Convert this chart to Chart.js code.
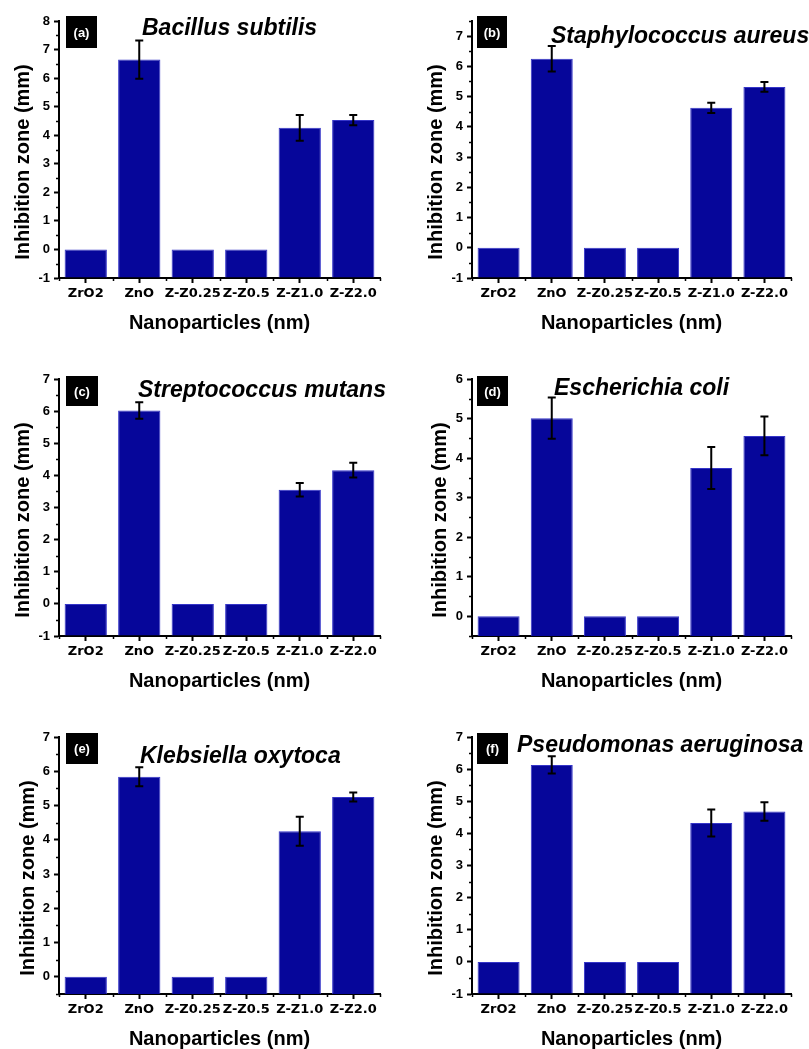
<!DOCTYPE html>
<html>
<head>
<meta charset="utf-8">
<script src="https://cdn.jsdelivr.net/npm/chart.js@4.4.1/dist/chart.umd.min.js"></script>
<style>
  html, body { margin: 0; padding: 0; background: #fff; overflow: hidden; }
  body { width: 809px; height: 1049px; position: relative; }
  canvas { position: absolute; }
</style>
</head>
<body>
<canvas id="panel-a"></canvas>
<canvas id="panel-b"></canvas>
<canvas id="panel-c"></canvas>
<canvas id="panel-d"></canvas>
<canvas id="panel-e"></canvas>
<canvas id="panel-f"></canvas>
<script>
const categories = ['ZrO2', 'ZnO', 'Z-Z0.25', 'Z-Z0.5', 'Z-Z1.0', 'Z-Z2.0'];

// inhibition zone (mm) and error per panel
const valuesA = [0, 6.65, 0, 0, 4.26, 4.53];
const errorsA = [0, 0.67, 0, 0, 0.45, 0.18];
const valuesB = [0, 6.25, 0, 0, 4.63, 5.32];
const errorsB = [0, 0.42, 0, 0, 0.17, 0.16];
const valuesC = [0, 6.02, 0, 0, 3.55, 4.16];
const errorsC = [0, 0.26, 0, 0, 0.21, 0.23];
const valuesD = [0, 5.01, 0, 0, 3.75, 4.56];
const errorsD = [0, 0.52, 0, 0, 0.53, 0.49];
const valuesE = [0, 5.84, 0, 0, 4.25, 5.25];
const errorsE = [0, 0.28, 0, 0, 0.42, 0.13];
const valuesF = [0, 6.13, 0, 0, 4.32, 4.68];
const errorsF = [0, 0.27, 0, 0, 0.42, 0.29];

// y tick labels per panel
const yTicksA = [-1, 0, 1, 2, 3, 4, 5, 6, 7, 8];
const yTicksB = [-1, 0, 1, 2, 3, 4, 5, 6, 7];
const yTicksC = [-1, 0, 1, 2, 3, 4, 5, 6, 7];
const yTicksD = [0, 1, 2, 3, 4, 5, 6];
const yTicksE = [0, 1, 2, 3, 4, 5, 6, 7];
const yTicksF = [-1, 0, 1, 2, 3, 4, 5, 6, 7];

const yTitle = 'Inhibition zone (mm)';
const xTitle = 'Nanoparticles (nm)';

const barFill = '#06069a';
const barEdge = '#3535c8';
const SANS = '"Liberation Sans", Arial, sans-serif';

// extra drawing: error bars, minor ticks, tag box, organism title, y title
const panelDecor = {
    id: 'panelDecor',
    afterDatasetsDraw(chart, args, o) {
        const ctx = chart.ctx;
        const ca = chart.chartArea;
        const x = chart.scales.x, y = chart.scales.y;
        const ds = chart.data.datasets[0];

        ctx.save();
        ctx.strokeStyle = '#000';
        ctx.lineWidth = 2;
        ds.errors.forEach((e, i) => {
            if (!e) return;
            const px = x.getPixelForValue(i);
            const top = y.getPixelForValue(ds.data[i] + e);
            const bot = y.getPixelForValue(ds.data[i] - e);
            ctx.beginPath();
            ctx.moveTo(px, top); ctx.lineTo(px, bot);
            ctx.moveTo(px - 4, top); ctx.lineTo(px + 4, top);
            ctx.moveTo(px - 4, bot); ctx.lineTo(px + 4, bot);
            ctx.stroke();
        });

        // minor ticks
        ctx.lineWidth = 1.5;
        ctx.beginPath();
        for (let v = y.min; v <= y.max + 1e-9; v += 0.5) {
            if (Number.isInteger(v)) continue;
            const py = Math.round(y.getPixelForValue(v)) + 0.5;
            ctx.moveTo(ca.left - 3, py); ctx.lineTo(ca.left, py);
        }
        for (let i = 0; i <= categories.length; i++) {
            const px = Math.round(x.getPixelForValue(i - 0.5)) + 0.5;
            ctx.moveTo(px, ca.bottom); ctx.lineTo(px, ca.bottom + 3);
        }
        ctx.stroke();
        ctx.restore();
    },
    afterDraw(chart, args, o) {
        const ctx = chart.ctx;
        const ca = chart.chartArea;
        ctx.save();

        // tag box
        ctx.fillStyle = '#000';
        ctx.fillRect(ca.left + o.box[0], ca.top + o.box[1], o.box[2], o.box[3]);
        ctx.fillStyle = '#fff';
        ctx.font = 'bold 13px ' + SANS;
        ctx.textAlign = 'center';
        ctx.textBaseline = 'middle';
        ctx.fillText(o.tag, ca.left + o.box[0] + o.box[2] / 2, ca.top + o.box[1] + o.box[3] / 2 + 1);

        // organism
        ctx.fillStyle = '#000';
        ctx.font = 'italic bold 23px ' + SANS;
        ctx.textAlign = 'left';
        ctx.textBaseline = 'alphabetic';
        ctx.fillText(o.title, ca.left + o.titlePos[0], ca.top + o.titlePos[1]);

        // y axis title
        ctx.font = 'bold 20px ' + SANS;
        ctx.textAlign = 'center';
        ctx.textBaseline = 'middle';
        ctx.translate(o.yTitleX, (ca.top + ca.bottom) / 2 + 12.5);
        ctx.rotate(-Math.PI / 2);
        ctx.fillText(yTitle, 0, 0);
        ctx.restore();
    }
};

function makePanel(id, p) {
    const canvas = document.getElementById(id);
    const colLeft = p.left < 400 ? 0 : 404;
    const width = colLeft === 0 ? 404 : 405;
    const height = p.bottom - p.top + 21 + 62;
    canvas.width = width;
    canvas.height = height;
    canvas.style.left = colLeft + 'px';
    canvas.style.top = (p.top - 21) + 'px';

    new Chart(canvas, {
        type: 'bar',
        data: {
            labels: categories,
            datasets: [{
                data: p.values,
                errors: p.errors,
                base: p.min,
                backgroundColor: barFill,
                borderColor: barEdge,
                borderWidth: 1,
                barPercentage: 0.79,
                categoryPercentage: 1
            }]
        },
        plugins: [panelDecor],
        options: {
            responsive: false,
            animation: false,
            events: [],
            layout: { padding: { top: 21, right: colLeft + width - p.right, left: 0, bottom: 0 } },
            plugins: {
                legend: { display: false },
                tooltip: { enabled: false },
                panelDecor: {
                    tag: p.tag,
                    title: p.title,
                    titlePos: p.titlePos,
                    box: p.box,
                    yTitleX: p.yTitleX
                }
            },
            scales: {
                x: {
                    grid: { offset: false, drawOnChartArea: false, tickLength: 5, tickColor: '#000', tickWidth: 2 },
                    border: { color: '#000', width: 2 },
                    ticks: {
                        color: '#000',
                        font: { family: '"DejaVu Sans", sans-serif', size: 13, weight: 'bold' },
                        padding: 3,
                        maxRotation: 0,
                        minRotation: 0,
                        autoSkip: false
                    },
                    title: {
                        display: true,
                        text: xTitle,
                        color: '#000',
                        font: { family: SANS, size: 20, weight: 'bold' },
                        padding: { top: 0, bottom: 5 }
                    },
                    afterFit: s => { s.height = 62; }
                },
                y: {
                    min: p.min,
                    max: p.max,
                    afterBuildTicks: s => { s.ticks = p.ticks.map(v => ({ value: v })); },
                    afterFit: s => { s.width = p.left - colLeft; },
                    grid: { drawOnChartArea: false, tickLength: 5, tickColor: '#000', tickWidth: 2 },
                    border: { color: '#000', width: 2 },
                    ticks: {
                        color: '#000',
                        font: { family: SANS, size: 13, weight: 'bold' },
                        padding: 4
                    }
                }
            }
        }
    });
}

makePanel('panel-a', { left: 59, right: 380, top: 21, bottom: 278, min: -1, max: 8,
    values: valuesA, errors: errorsA, ticks: yTicksA, tag: '(a)', title: 'Bacillus subtilis',
    titlePos: [83, 14], box: [7, -5, 31, 32], yTitleX: 23 });
makePanel('panel-b', { left: 472, right: 791, top: 21, bottom: 278, min: -1, max: 7.5,
    values: valuesB, errors: errorsB, ticks: yTicksB, tag: '(b)', title: 'Staphylococcus aureus',
    titlePos: [79, 22], box: [5, -5, 30, 32], yTitleX: 32 });
makePanel('panel-c', { left: 59, right: 380, top: 379, bottom: 636, min: -1, max: 7,
    values: valuesC, errors: errorsC, ticks: yTicksC, tag: '(c)', title: 'Streptococcus mutans',
    titlePos: [79, 18], box: [7, -3, 32, 30], yTitleX: 23 });
makePanel('panel-d', { left: 472, right: 791, top: 379, bottom: 636, min: -0.5, max: 6,
    values: valuesD, errors: errorsD, ticks: yTicksD, tag: '(d)', title: 'Escherichia coli',
    titlePos: [82, 16], box: [5, -3, 31, 30], yTitleX: 36 });
makePanel('panel-e', { left: 59, right: 380, top: 737, bottom: 994, min: -0.5, max: 7,
    values: valuesE, errors: errorsE, ticks: yTicksE, tag: '(e)', title: 'Klebsiella oxytoca',
    titlePos: [81, 26], box: [7, -4, 32, 31], yTitleX: 28 });
makePanel('panel-f', { left: 472, right: 791, top: 737, bottom: 994, min: -1, max: 7,
    values: valuesF, errors: errorsF, ticks: yTicksF, tag: '(f)', title: 'Pseudomonas aeruginosa',
    titlePos: [45, 15], box: [5, -4, 31, 31], yTitleX: 32 });
</script>
</body>
</html>
